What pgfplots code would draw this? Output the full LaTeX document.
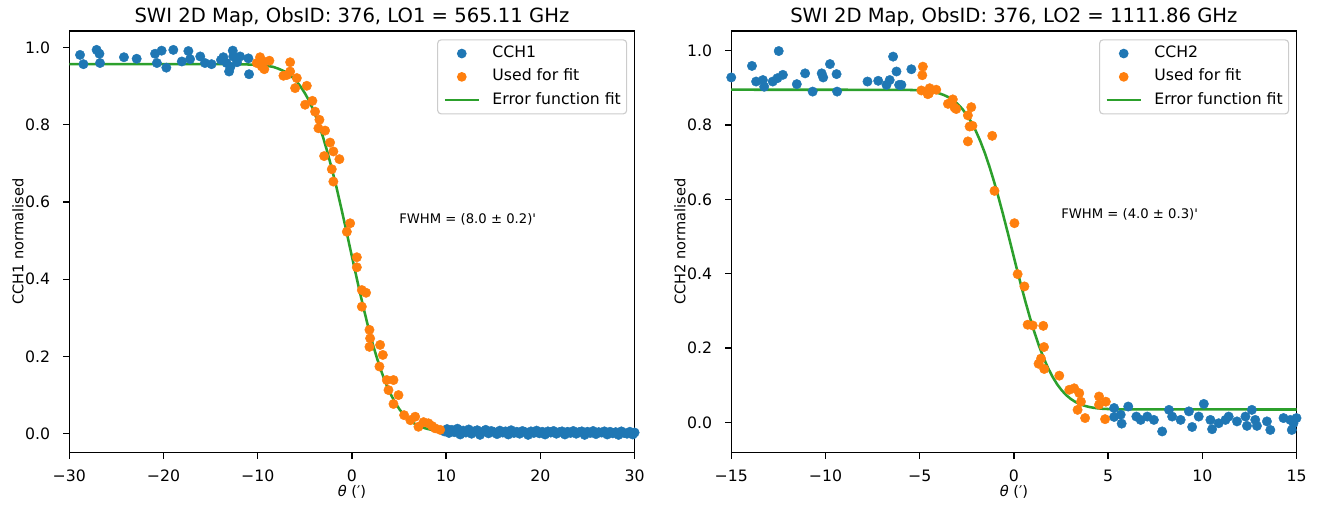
\documentclass[border=0pt]{standalone}
\usepackage{fontspec}
\setmainfont{DejaVu Sans}
\usepackage{pgfplots}
\pgfplotsset{compat=1.18}
\definecolor{tabblue}{HTML}{1F77B4}
\definecolor{taborange}{HTML}{FF7F0E}
\definecolor{tabgreen}{HTML}{2CA02C}
\newcommand{\fsticks}{\fontsize{11.3}{13.5}\selectfont}
\newcommand{\fslabel}{\fontsize{10.5}{12.6}\selectfont}
\newcommand{\fsnote}{\fontsize{9.5}{11.4}\selectfont}
\pgfplotsset{
  myax/.style={
    scale only axis, width=407pt, height=303.6pt,
    axis line style={black, line width=0.98pt},
    tick align=outside, tick pos=left, major tick length=4.27pt,
    tick style={black, line width=0.98pt},
    /pgf/number format/assume math mode=true,
    tick label style={font=\fsticks, inner sep=0pt},
    xticklabel style={anchor=base, yshift=-16.5pt},
    yticklabel style={anchor=east, xshift=-9.3pt},
    label style={font=\fslabel},
    xlabel style={at={(rel axis cs:0.5,0)}, anchor=base, yshift=-31.5pt, inner sep=0pt},
    ylabel style={at={(rel axis cs:0,0.5)}, anchor=base, yshift=33.1pt, inner sep=0pt},
    title style={at={(rel axis cs:0.5,1)}, anchor=base, yshift=0.3pt, inner sep=0pt, font=\fontsize{14.1}{17}\selectfont},
    legend cell align=left,
    legend style={at={(1,1)}, anchor=north east, xshift=-5.3pt, yshift=-6pt,
      draw=black!20, line width=0.8pt, rounded corners=2.5pt, fill=white,
      font=\fsticks,
      inner xsep=4.2pt, inner ysep=4.2pt, row sep=5.5pt, column sep=8.9pt,
      nodes={inner sep=0pt, text height=8.5pt, text depth=2.8pt}},
  },
  bluepts/.style={only marks, color=tabblue, mark=*, mark size=3.4pt,
    mark options={fill=tabblue, draw=tabblue, line width=0.3pt},
    legend image code/.code={\path[draw=none] (0pt,0pt) -- (24.5pt,0pt); \fill[draw=none, tabblue] (12.25pt,0pt) circle (3.5pt);}},
  orangepts/.style={only marks, color=taborange, mark=*, mark size=3.4pt,
    mark options={fill=taborange, draw=taborange, line width=0.3pt},
    legend image code/.code={\path[draw=none] (0pt,0pt) -- (24.5pt,0pt); \fill[draw=none, taborange] (12.25pt,0pt) circle (3.5pt);}},
  fitline/.style={no marks, tabgreen, line width=1.83pt,
    legend image code/.code={\draw[tabgreen, line width=1.83pt] (0pt,0pt) -- (24.5pt,0pt);}},
}
\begin{document}
\begin{tikzpicture}
\path[use as bounding box] (-49.9pt,-38.4pt) rectangle (899.8pt,325.9pt);
% ---------------- left panel ----------------
\begin{axis}[myax, at={(0pt,0pt)}, anchor=south west,
  xmin=-30, xmax=30, ymin=-0.049, ymax=1.043,
  xtick={-30,-20,-10,0,10,20,30}, xticklabels={−30,−20,−10,0,10,20,30},
  ytick={0,0.2,0.4,0.6,0.8,1}, yticklabels={0.0,0.2,0.4,0.6,0.8,1.0},
  title={SWI 2D Map, ObsID: 376, LO1 = 565.11 GHz},
  xlabel={\textit{θ} (′)}, ylabel={CCH1 normalised}]
\addplot[bluepts] coordinates {
(-28.86,0.981) (-28.5,0.957) (-27.1,0.994) (-26.8,0.984) (-26.74,0.960)
(-24.2,0.975) (-22.85,0.971) (-20.9,0.984) (-20.7,0.960) (-20.2,0.992)
(-19.7,0.948) (-18.96,0.994) (-18.06,0.964) (-17.36,0.991) (-17.18,0.970)
(-16.1,0.977) (-15.6,0.960) (-14.9,0.957) (-13.9,0.968) (-13.65,0.975)
(-13.3,0.960) (-13.04,0.938) (-12.9,0.950) (-12.65,0.992) (-12.6,0.977)
(-12.2,0.962) (-11.87,0.977) (-10.99,0.972) (-10.92,0.931)
(9.8,0.006) (10.1,0.012) (10.3,0.002) (10.6,0.010) (10.9,0.004) (11.2,0.013)
(11.5,-0.002) (11.8,0.008) (12.1,0.003) (12.4,0.011) (12.7,0.000) (13.0,0.006)
(13.3,0.009) (13.6,-0.003) (13.9,0.005) (14.2,0.010) (14.5,0.001) (14.8,0.007)
(15.1,0.004) (15.4,-0.001) (15.7,0.008) (16.0,0.003) (16.3,0.006) (16.6,-0.002)
(16.9,0.009) (17.2,0.002) (17.5,0.005) (17.8,0.000) (18.1,0.007) (18.4,0.004)
(18.7,-0.003) (19.0,0.006) (19.3,0.002) (19.6,0.008) (19.9,0.001) (20.2,0.005)
(20.5,-0.002) (20.8,0.006) (21.1,0.003) (21.4,0.007) (21.7,0.000) (22.0,0.004)
(22.3,0.006) (22.6,-0.002) (22.9,0.005) (23.2,0.002) (23.5,0.007) (23.8,0.000)
(24.1,0.004) (24.4,0.006) (24.7,-0.003) (25.0,0.005) (25.3,0.002) (25.6,0.007)
(25.9,-0.001) (26.2,0.004) (26.5,0.003) (26.8,0.006) (27.1,-0.002) (27.4,0.005)
(27.7,0.001) (28.0,0.004) (28.3,-0.003) (28.6,0.006) (28.9,0.002) (29.2,0.000)
(29.5,0.005) (29.8,-0.002) (30.0,0.003)
};
\addlegendentry{CCH1}
\addplot[orangepts] coordinates {
(-10.1,0.960) (-9.75,0.975) (-9.57,0.951) (-9.4,0.964) (-9.3,0.944) (-8.76,0.966)
(-7.27,0.927) (-6.9,0.929) (-6.56,0.962) (-6.56,0.938) (-6.03,0.895) (-5.85,0.921)
(-4.79,0.901) (-4.2,0.862) (-4.97,0.852) (-3.91,0.834) (-3.45,0.813) (-3.56,0.791)
(-2.85,0.785) (-2.32,0.754) (-1.97,0.731) (-2.95,0.719) (-1.33,0.711) (-2.14,0.685)
(-1.97,0.653) (-0.19,0.545) (-0.54,0.523) (0.52,0.457) (0.52,0.431) (1.05,0.372)
(1.5,0.365) (1.05,0.329) (1.86,0.269) (1.93,0.247) (1.86,0.225) (2.99,0.230)
(3.28,0.204) (2.92,0.174) (3.70,0.139) (4.41,0.139) (3.88,0.113) (4.94,0.100)
(4.41,0.077) (5.54,0.048) (6.2,0.035) (6.71,0.044) (7.06,0.018) (7.6,0.030)
(8.12,0.027) (8.5,0.020) (8.83,0.014) (9.36,0.010)
};
\addlegendentry{Used for fit}
\addplot[fitline] coordinates {
(-30,0.957) (-12.2,0.957) (-10.76,0.956) (-9.8,0.955) (-9.32,0.954) (-8.84,0.952)
(-8.36,0.950) (-7.88,0.946) (-7.40,0.941) (-6.92,0.935) (-6.44,0.926) (-5.96,0.915)
(-5.48,0.900) (-5.00,0.882) (-4.52,0.861) (-4.04,0.835) (-3.56,0.804) (-3.08,0.769)
(-2.60,0.729) (-2.12,0.685) (-1.64,0.638) (-1.16,0.587) (-0.68,0.535) (-0.2,0.481)
(0.28,0.428) (0.76,0.375) (1.24,0.325) (1.72,0.277) (2.20,0.233) (2.68,0.194)
(3.16,0.159) (3.64,0.128) (4.12,0.102) (4.60,0.080) (5.08,0.062) (5.56,0.048)
(6.04,0.0365) (6.52,0.0277) (7.00,0.0212) (7.48,0.0163) (7.96,0.0128) (8.44,0.0102)
(8.92,0.0084) (9.40,0.0072) (10.36,0.0059) (11.8,0.0052) (30,0.005)
};
\addlegendentry{Error function fit}
\node[anchor=base west, inner sep=0pt, font=\fsnote] at (axis cs:5,0.545) {FWHM = (8.0 ± 0.2)\textquotesingle};
\end{axis}
% ---------------- right panel ----------------
\begin{axis}[myax, at={(476.6pt,0pt)}, anchor=south west,
  xmin=-15, xmax=15, ymin=-0.081, ymax=1.053,
  xtick={-15,-10,-5,0,5,10,15}, xticklabels={−15,−10,−5,0,5,10,15},
  ytick={0,0.2,0.4,0.6,0.8,1}, yticklabels={0.0,0.2,0.4,0.6,0.8,1.0},
  title={SWI 2D Map, ObsID: 376, LO2 = 1111.86 GHz},
  xlabel={\textit{θ} (′)}, ylabel={CCH2 normalised}]
\addplot[bluepts] coordinates {
(-15.0,0.928) (-13.9,0.959) (-13.68,0.917) (-13.32,0.921) (-13.25,0.903) (-12.8,0.917)
(-12.55,0.926) (-12.26,0.935) (-12.48,0.999) (-11.52,0.910) (-11.08,0.939) (-10.68,0.890)
(-10.2,0.939) (-10.12,0.928) (-9.76,0.964) (-9.41,0.937) (-9.38,0.890) (-7.77,0.917)
(-7.2,0.919) (-6.76,0.908) (-6.59,0.921) (-6.41,0.984) (-6.23,0.944) (-6.09,0.908)
(-5.97,0.908) (-5.44,0.950)
(5.32,0.039) (5.32,0.015) (5.67,0.021) (5.72,-0.003) (6.07,0.043) (6.5,0.016)
(6.73,0.007) (7.08,0.016) (7.43,0.007) (7.87,-0.024) (8.23,0.034) (8.4,0.016)
(8.85,0.007) (9.29,0.030) (9.46,-0.012) (9.81,0.016) (10.08,0.050) (10.43,0.007)
(10.52,-0.018) (10.87,-0.002) (11.23,0.007) (11.4,0.016) (11.84,0.003) (12.29,0.016)
(12.37,-0.009) (12.63,0.034) (12.81,0.007) (12.9,-0.009) (13.43,0.003) (13.61,-0.020)
(14.31,0.012) (14.67,0.007) (14.75,-0.020) (14.84,-0.002) (15.0,0.012)
};
\addlegendentry{CCH2}
\addplot[orangepts] coordinates {
(-4.83,0.957) (-4.86,0.934) (-4.91,0.893) (-4.51,0.885) (-4.47,0.899) (-4.12,0.895)
(-4.57,0.883) (-3.5,0.857) (-3.24,0.869) (-3.15,0.847) (-3.06,0.843) (-2.26,0.848)
(-2.44,0.826) (-2.2,0.798) (-2.35,0.796) (-2.44,0.756) (-1.15,0.771) (-1.03,0.623)
(0.03,0.536) (0.2,0.399) (0.56,0.366) (0.73,0.263) (1.0,0.261) (1.56,0.260)
(1.6,0.203) (1.44,0.172) (1.31,0.158) (1.61,0.144) (2.41,0.126) (2.94,0.088)
(3.2,0.092) (3.47,0.079) (3.56,0.056) (3.38,0.034) (3.78,0.012) (4.52,0.070)
(4.88,0.056) (4.52,0.048) (4.84,0.009)
};
\addlegendentry{Used for fit}
\addplot[fitline] coordinates {
(-15,0.895) (-6.1,0.8948) (-5.38,0.8942) (-4.9,0.8930) (-4.66,0.8919) (-4.42,0.8903)
(-4.18,0.8880) (-3.94,0.8848) (-3.70,0.8804) (-3.46,0.8745) (-3.22,0.8666) (-2.98,0.8564)
(-2.74,0.8435) (-2.50,0.8274) (-2.26,0.8077) (-2.02,0.7841) (-1.78,0.7565) (-1.54,0.7247)
(-1.30,0.6888) (-1.06,0.6492) (-0.82,0.6063) (-0.58,0.5608) (-0.34,0.5134) (-0.10,0.465)
(0.14,0.4166) (0.38,0.3692) (0.62,0.3237) (0.86,0.2808) (1.10,0.2412) (1.34,0.2053)
(1.58,0.1735) (1.82,0.1459) (2.06,0.1223) (2.30,0.1026) (2.54,0.0865) (2.78,0.0736)
(3.02,0.0634) (3.26,0.0555) (3.50,0.0496) (3.74,0.0452) (3.98,0.0420) (4.22,0.0397)
(4.46,0.0381) (4.70,0.0370) (5.18,0.0358) (5.90,0.0352) (15,0.035)
};
\addlegendentry{Error function fit}
\node[anchor=base west, inner sep=0pt, font=\fsnote] at (axis cs:2.5,0.55) {FWHM = (4.0 ± 0.3)\textquotesingle};
\end{axis}
\end{tikzpicture}
\end{document}
